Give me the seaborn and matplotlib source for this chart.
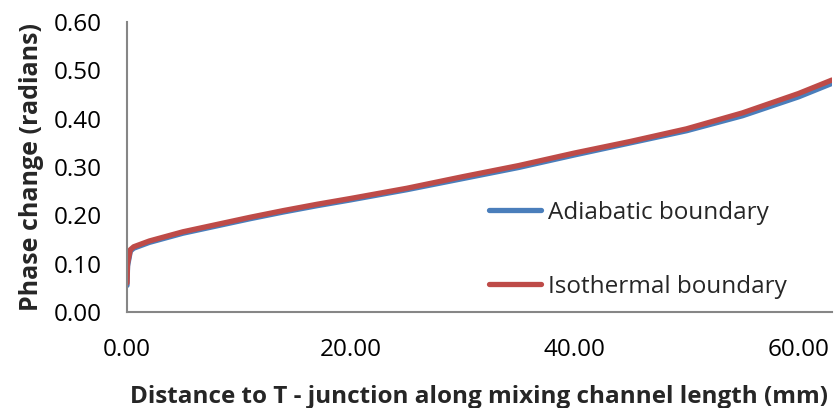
import matplotlib
matplotlib.use("Agg")
import matplotlib.pyplot as plt
import seaborn as sns
import pandas as pd

# Data
distance_mm = [0.0, 0.05, 0.3, 0.6, 2.0, 5.0, 8.0, 11.0, 14.0, 17.0, 20.0,
               25.0, 30.0, 35.0, 40.0, 45.0, 50.0, 55.0, 60.0, 63.0]
adiabatic = [0.055, 0.095, 0.126, 0.132, 0.144, 0.163, 0.178, 0.193, 0.207,
             0.220, 0.232, 0.253, 0.276, 0.299, 0.325, 0.350, 0.375, 0.406,
             0.445, 0.473]
isothermal = [0.060, 0.100, 0.129, 0.135, 0.147, 0.166, 0.181, 0.196, 0.210,
              0.223, 0.235, 0.256, 0.280, 0.303, 0.329, 0.353, 0.379, 0.412,
              0.452, 0.480]
series_names = ["Adiabatic boundary", "Isothermal boundary"]
x_ticks = [0, 20, 40, 60]
y_ticks = [0.0, 0.1, 0.2, 0.3, 0.4, 0.5, 0.6]

df = pd.DataFrame({
    "x": distance_mm * 2,
    "y": adiabatic + isothermal,
    "series": [series_names[0]] * len(distance_mm) + [series_names[1]] * len(distance_mm),
})

sns.set_theme(style="white")
plt.rcParams["font.family"] = ["Open Sans", "DejaVu Sans"]

fig = plt.figure(figsize=(8.37, 4.08), dpi=100)
ax = fig.add_axes([127 / 837, 1 - 312 / 408, (832 - 127) / 837, (312 - 22) / 408])

palette = {series_names[0]: "#4A7EBB", series_names[1]: "#BE4B48"}
sns.lineplot(data=df, x="x", y="y", hue="series", palette=palette, ax=ax,
             linewidth=3.8, legend=True, sort=False)

ax.set_xlim(0, 63)
ax.set_ylim(0, 0.6)
ax.set_xticks(x_ticks)
ax.set_xticklabels([f"{v:.2f}" for v in x_ticks])
ax.set_yticks(y_ticks)
ax.set_yticklabels([f"{v:.2f}" for v in y_ticks])

for side in ["top", "right"]:
    ax.spines[side].set_visible(False)
for side in ["left", "bottom"]:
    ax.spines[side].set_color("#868686")
    ax.spines[side].set_linewidth(1.5)

ax.tick_params(axis="both", which="major", direction="out", length=6, width=1.5,
               color="#868686", labelsize=17.5, labelcolor="black")
ax.tick_params(axis="y", pad=12)
ax.tick_params(axis="x", pad=13)

ax.set_xlabel("Distance to T - junction along mixing channel length (mm)",
              fontsize=17.5, fontweight="bold", labelpad=16)
ax.set_ylabel("Phase change (radians)", fontsize=18, fontweight="bold", labelpad=7)

leg = ax.legend(loc="upper left", bbox_to_anchor=(489 / 837, 1 - 201 / 408),
                bbox_transform=fig.transFigure, frameon=False, fontsize=17.5,
                handlelength=2.15, handletextpad=0.28, labelspacing=2.05,
                borderpad=0, borderaxespad=0)
for line in leg.get_lines():
    line.set_linewidth(3.8)
    line.set_solid_capstyle("round")

fig.savefig("out.png", dpi=100)
